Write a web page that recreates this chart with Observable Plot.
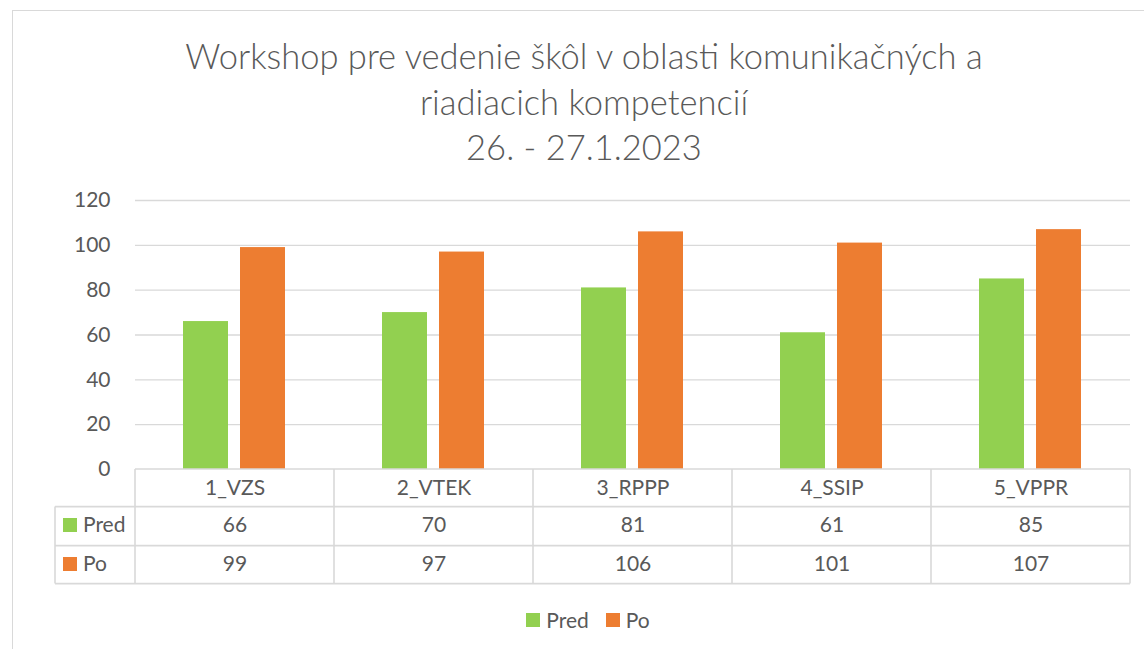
<!DOCTYPE html>
<html>
<head>
<meta charset="utf-8">
<script src="https://cdn.jsdelivr.net/npm/d3@7"></script>
<script src="https://cdn.jsdelivr.net/npm/@observablehq/plot@0.6"></script>
<style>
  html, body { margin: 0; padding: 0; background: #fff; overflow: hidden; }
  #page { position: relative; width: 1144px; height: 649px; font-family: Lato, "Open Sans", sans-serif; color: #595959; }
  #frame { position: absolute; left: 12px; top: 10px; width: 1200px; height: 700px; border: 1px solid #d9d9d9; box-sizing: border-box; }
  #title { position: absolute; left: 12px; width: 1144px; top: 33px; text-align: center; font-size: 34.5px; line-height: 45.5px; font-weight: 300; color: #595959; }
  #chart { position: absolute; left: 0; top: 180px; }
  #legend { position: absolute; left: 12px; width: 1152px; top: 608px; display: flex; justify-content: center; gap: 17px; font-size: 21px; line-height: 24px; }
  .item { display: flex; align-items: center; gap: 6px; }
  .sw { width: 14px; height: 14px; display: inline-block; }
</style>
</head>
<body>
<div id="page">
  <div id="frame"></div>
  <div id="title"></div>
  <div id="chart"></div>
  <div id="legend"></div>
</div>
<script>
const titleLines = ["Workshop pre vedenie škôl v oblasti komunikačných a", "riadiacich kompetencií", "26. - 27.1.2023"];
const categories = ["1_VZS", "2_VTEK", "3_RPPP", "4_SSIP", "5_VPPR"];
const seriesNames = ["Pred", "Po"];
const predValues = [66, 70, 81, 61, 85];
const poValues = [99, 97, 106, 101, 107];
const seriesColors = ["#92D050", "#ED7D31"];
const yTicks = [0, 20, 40, 60, 80, 100, 120];

const rows = categories.map((c, i) => ({category: c, Pred: predValues[i], Po: poValues[i]}));

document.getElementById("title").innerHTML = titleLines.map(t => `<div>${t}</div>`).join("");

const gray = "#595959";
const lineColor = "#D9D9D9";
const headerDy = 19, rowDy = [56, 95];

const plot = Plot.plot({
  width: 1144,
  height: 420,
  marginTop: 20,
  marginBottom: 131,
  marginLeft: 135,
  marginRight: 14,
  style: {fontFamily: "Lato, 'Open Sans', sans-serif", fontSize: "21px", color: gray, background: "transparent", overflow: "visible"},
  x: {domain: categories, padding: 0, axis: null},
  y: {domain: [0, 120], axis: null},
  marks: [
    Plot.gridY(yTicks.filter(t => t > 0), {stroke: lineColor, strokeOpacity: 1, strokeWidth: 1.3}),
    Plot.axisY(yTicks, {tickSize: 0, tickPadding: 25, fill: gray, fontSize: 21}),
    Plot.barY(rows, {x: "category", y: "Pred", fill: seriesColors[0], insetLeft: 48, insetRight: 106}),
    Plot.barY(rows, {x: "category", y: "Po", fill: seriesColors[1], insetLeft: 105, insetRight: 49}),
    Plot.text(categories, {x: d => d, text: d => d, frameAnchor: "bottom", lineAnchor: "middle", dy: headerDy, fill: gray, fontSize: 21}),
    Plot.text(predValues, {x: (d, i) => categories[i], text: d => String(d), frameAnchor: "bottom", lineAnchor: "middle", dy: rowDy[0], fill: gray, fontSize: 21}),
    Plot.text(poValues, {x: (d, i) => categories[i], text: d => String(d), frameAnchor: "bottom", lineAnchor: "middle", dy: rowDy[1], fill: gray, fontSize: 21})
  ]
});
document.getElementById("chart").appendChild(plot);

// data table grid and row labels, positioned with the plot's own scales
const xs = plot.scale("x");
const ys = plot.scale("y");
const svg = d3.select(plot);
const y0 = ys.apply(0);
const right = xs.range[1];
const left = xs.range[0];
const rowEdges = [y0, y0 + 37.6, y0 + 76.6, y0 + 114.6];
const labelLeft = 55;
const g = svg.append("g").attr("stroke", lineColor).attr("stroke-width", 1.6).attr("fill", "none");
g.append("line").attr("x1", left).attr("x2", right).attr("y1", rowEdges[0]).attr("y2", rowEdges[0]);
for (let k = 1; k < rowEdges.length; k++) {
  g.append("line").attr("x1", labelLeft).attr("x2", right).attr("y1", rowEdges[k]).attr("y2", rowEdges[k]);
}
const edges = categories.map(c => xs.apply(c)).concat([xs.apply(categories[categories.length - 1]) + xs.bandwidth]);
edges.forEach(x => g.append("line").attr("x1", x).attr("x2", x).attr("y1", rowEdges[0]).attr("y2", rowEdges[3]));
g.append("line").attr("x1", labelLeft).attr("x2", labelLeft).attr("y1", rowEdges[1]).attr("y2", rowEdges[3]);
seriesNames.forEach((name, k) => {
  const cy = y0 + rowDy[k];
  svg.append("rect").attr("x", 63).attr("y", cy - 7).attr("width", 14).attr("height", 14).attr("fill", seriesColors[k]);
  svg.append("text").attr("x", 83).attr("y", cy).attr("dy", "0.35em").attr("fill", gray)
    .attr("text-anchor", "start").attr("font-size", 21).text(name);
});

document.getElementById("legend").innerHTML = seriesNames.map((n, k) =>
  `<span class="item"><span class="sw" style="background:${seriesColors[k]}"></span><span>${n}</span></span>`).join("");
</script>
</body>
</html>
